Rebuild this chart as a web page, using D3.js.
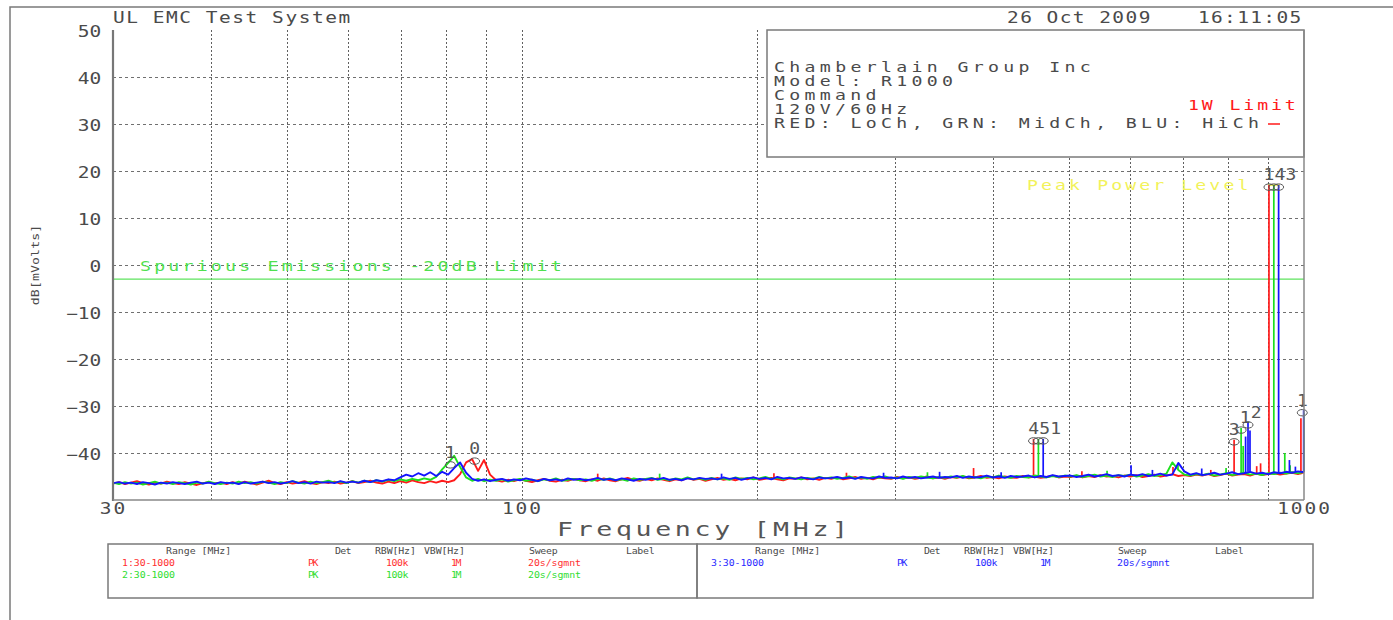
<!DOCTYPE html>
<html>
<head>
<meta charset="utf-8">
<script src="https://cdn.jsdelivr.net/npm/d3@7"></script>
<style>
  html, body { margin: 0; padding: 0; background: #fff; }
  svg { display: block; }
  text { font-family: "DejaVu Sans Mono", "Liberation Mono", monospace; }
</style>
</head>
<body>
<svg id="chart" width="1393" height="620"></svg>
<script>
// ---- sweep data (dB[mVolts]) for the three channels, 200 sweep points 30-1000 MHz ----
const sweepCount = 200;

const redTrace = [
  -46.5,-46.2,-46.6,-46.3,-46.0,-46.4,-46.7,-46.3,-46.5,-46.1,-46.4,-46.6,-46.2,-46.5,-46.8,-46.4,-46.2,-46.5,-46.3,-46.6,
  -46.2,-46.5,-46.1,-46.4,-46.7,-46.3,-45.9,-46.4,-46.6,-46.2,-46.5,-46.3,-46.0,-46.4,-46.6,-46.2,-46.4,-46.1,-46.5,-46.3,
  -46.0,-46.4,-46.2,-45.9,-46.3,-46.5,-46.1,-46.4,-46.0,-46.3,-45.8,-46.2,-46.4,-46.0,-46.3,-45.9,-46.2,-45.8,-44.5,-42.0,
  -41.3,-43.8,-41.5,-44.6,-45.8,-46.1,-45.7,-46.0,-45.6,-45.9,-46.2,-45.8,-45.5,-45.9,-46.1,-45.7,-45.9,-45.5,-45.8,-46.0,
  -45.6,-45.9,-45.4,-45.8,-46.0,-45.6,-45.3,-45.7,-45.9,-45.5,-45.8,-45.4,-45.7,-46.0,-45.6,-45.8,-45.3,-45.7,-45.5,-45.9,
  -45.6,-45.3,-45.7,-45.5,-45.8,-45.4,-45.6,-45.2,-45.7,-45.5,-45.3,-45.6,-45.8,-45.4,-45.5,-45.2,-45.6,-45.4,-45.7,-45.3,
  -45.5,-45.2,-45.6,-45.4,-45.1,-45.5,-45.3,-45.6,-45.2,-45.4,-45.5,-45.1,-45.4,-45.2,-45.5,-45.3,-45.0,-45.4,-45.2,-45.5,
  -45.1,-45.3,-45.0,-45.4,-45.2,-44.9,-45.3,-45.1,-45.4,-45.0,-45.2,-45.3,-44.9,-45.2,-45.0,-45.3,-45.1,-44.8,-45.2,-45.0,
  -45.1,-44.8,-45.2,-44.9,-45.1,-44.7,-45.0,-44.9,-45.2,-44.8,-45.0,-44.7,-45.1,-44.9,-44.6,-45.0,-44.8,-44.5,-44.9,-44.7,
  -44.9,-44.6,-44.8,-44.5,-44.9,-44.7,-44.4,-44.8,-44.6,-44.5,-44.8,-44.4,-44.7,-44.5,-44.3,-44.6,-44.4,-44.2,-44.5,-44.1
];

const greenTrace = [
  -46.3,-46.6,-46.2,-46.5,-46.3,-46.7,-46.4,-46.1,-46.5,-46.3,-46.6,-46.2,-46.4,-46.7,-46.3,-46.5,-46.1,-46.4,-46.6,-46.3,
  -46.5,-46.1,-46.4,-46.2,-46.5,-46.1,-46.3,-46.6,-46.2,-46.4,-46.0,-46.3,-46.5,-46.1,-46.4,-46.2,-45.9,-46.3,-46.1,-46.4,
  -46.0,-46.3,-45.9,-46.2,-45.8,-46.1,-45.7,-46.0,-45.6,-45.9,-45.5,-45.8,-45.4,-45.7,-45.1,-43.5,-42.1,-40.6,-43.0,-45.2,
  -45.9,-45.5,-46.0,-45.7,-45.9,-45.6,-46.1,-45.8,-45.5,-45.9,-45.7,-46.0,-45.6,-45.8,-45.4,-45.9,-45.7,-45.5,-45.8,-45.6,
  -45.9,-45.5,-45.7,-45.4,-45.8,-45.6,-45.9,-45.4,-45.7,-45.5,-45.3,-45.7,-45.5,-45.8,-45.4,-45.6,-45.2,-45.6,-45.4,-45.7,
  -45.3,-45.6,-45.4,-45.7,-45.2,-45.5,-45.3,-45.6,-45.4,-45.1,-45.5,-45.3,-45.6,-45.2,-45.4,-45.6,-45.3,-45.5,-45.1,-45.4,
  -45.2,-45.5,-45.3,-45.0,-45.4,-45.2,-45.5,-45.1,-45.3,-45.0,-45.4,-45.2,-45.5,-45.1,-45.3,-45.0,-45.2,-45.4,-45.1,-45.3,
  -45.0,-45.2,-44.9,-45.3,-45.1,-45.4,-45.0,-45.2,-44.8,-45.1,-45.3,-44.9,-45.1,-45.2,-44.8,-45.0,-45.2,-44.9,-45.1,-44.8,
  -45.0,-44.7,-45.1,-44.9,-44.6,-45.0,-44.8,-45.1,-44.7,-44.9,-44.6,-45.0,-44.8,-44.5,-44.9,-44.7,-44.4,-42.0,-43.6,-44.6,
  -44.8,-44.5,-44.7,-44.4,-44.8,-44.6,-44.3,-44.7,-44.5,-44.2,-44.6,-44.4,-44.7,-44.3,-44.5,-44.2,-44.4,-44.1,-44.3,-44.0
];

const blueTrace = [
  -46.4,-46.2,-46.5,-46.3,-46.6,-46.2,-46.4,-46.7,-46.3,-46.5,-46.2,-46.4,-46.6,-46.3,-46.1,-46.5,-46.3,-46.6,-46.2,-46.4,
  -46.3,-46.6,-46.2,-46.5,-46.3,-46.1,-46.4,-46.2,-46.5,-46.3,-46.0,-46.4,-46.2,-46.5,-46.1,-46.3,-46.2,-46.4,-46.0,-46.3,
  -46.1,-46.3,-45.9,-46.2,-45.8,-46.0,-45.6,-45.8,-45.2,-44.6,-45.0,-44.3,-44.8,-44.1,-44.9,-44.0,-44.6,-43.2,-42.0,-44.2,
  -45.5,-45.9,-45.6,-46.0,-45.7,-45.5,-45.9,-45.6,-45.8,-45.4,-45.7,-46.0,-45.5,-45.8,-45.6,-45.9,-45.4,-45.7,-45.5,-45.8,
  -45.6,-45.3,-45.7,-45.5,-45.8,-45.4,-45.6,-45.9,-45.5,-45.7,-45.4,-45.6,-45.3,-45.7,-45.5,-45.8,-45.4,-45.6,-45.3,-45.5,
  -45.4,-45.6,-45.2,-45.5,-45.3,-45.7,-45.4,-45.2,-45.5,-45.3,-45.6,-45.1,-45.4,-45.3,-45.5,-45.2,-45.4,-45.6,-45.2,-45.4,
  -45.3,-45.1,-45.4,-45.2,-45.5,-45.1,-45.3,-45.4,-45.0,-45.3,-45.2,-45.4,-45.0,-45.3,-45.1,-45.4,-45.2,-45.0,-45.3,-45.1,
  -45.2,-44.9,-45.3,-45.0,-45.2,-45.1,-44.8,-45.2,-45.0,-45.3,-44.9,-45.1,-45.0,-44.8,-45.2,-44.9,-45.1,-44.7,-45.0,-44.9,
  -44.8,-45.1,-44.9,-44.6,-45.0,-44.8,-44.5,-44.9,-44.7,-45.0,-44.6,-44.8,-44.5,-44.9,-44.7,-44.4,-44.8,-44.6,-42.1,-43.9,
  -44.6,-44.3,-44.7,-44.5,-44.2,-44.6,-44.4,-44.1,-44.5,-44.3,-44.0,-44.4,-44.2,-44.5,-44.1,-44.3,-44.0,-44.2,-43.9,-44.1
];

// narrow emissions: [MHz, dB]
const redSpikes = [
  [125, -44.4], [210, -44.3], [260, -44.2], [378, -43.2], [451, -37.0], [520, -43.9], [680, -43.0],
  [760, -43.6], [814, -37.2], [870, -42.8], [880, -42.2], [902, 17.0], [991, -32.6]
];
const greenSpikes = [
  [150, -44.4], [330, -44.1], [457.5, -37.0], [560, -43.8], [690, -42.5], [795, -43.2],
  [831, -34.7], [836, -38.5], [915, 17.0], [945, -40.0], [960, -42.6], [1000, -31.5]
];
const blueSpikes = [
  [180, -44.4], [290, -44.2], [342, -44.0], [410, -44.1], [464, -37.0], [601, -42.6], [640, -43.6],
  [740, -43.3], [842, -36.5], [848, -33.6], [853, -35.2], [928, 17.0], [958, -41.5], [975, -42.9], [999, -30.8]
];

// analyzer markers: [MHz, dB, label]
const markers = [
  [81, -42.1, "1"], [87, -41.3, "0"],
  [451, -37.0, "4"], [457.5, -37.0, "5"], [464, -37.0, "1"],
  [814, -37.2, "3"], [831, -34.7, "1"], [848, -33.6, "2"],
  [902, 17.0, "1"], [915, 17.0, "4"], [928, 17.0, "3"],
  [995, -31.0, "1"]
];

const yTicks = [50, 40, 30, 20, 10, 0, -10, -20, -30, -40];
const hGrid = [40, 30, 20, 10, 0, -10, -20, -30, -40];
const xTicks = [30, 100, 1000];
const vGrid = [40, 50, 60, 70, 80, 90, 100, 200, 300, 400, 500, 600, 700, 800, 900];
const spuriousLimit = -3;
const peakPowerLevel = 17;

const infoLines = ["Chamberlain Group Inc", "Model: R1000", "Command", "120V/60Hz", "RED: LoCh, GRN: MidCh, BLU: HiCh"];
const tableHeaders = ["Range [MHz]", "Det", "RBW[Hz]", "VBW[Hz]", "Sweep", "Label"];
const tableRowsLeft = [
  ["1:30-1000", "PK", "100k", "1M", "20s/sgmnt"],
  ["2:30-1000", "PK", "100k", "1M", "20s/sgmnt"]
];
const tableRowsRight = [
  ["3:30-1000", "PK", "100k", "1M", "20s/sgmnt"]
];

// ---- layout ----
const svg = d3.select("#chart");
const plot = { left: 113, right: 1304, top: 30, bottom: 500 };
const x = d3.scaleLog().domain([30, 1000]).range([plot.left, plot.right]);
const y = d3.scaleLinear().domain([-50, 50]).range([plot.bottom, plot.top]);
const sweepFreq = d3.range(sweepCount).map(i => 30 * Math.pow(1000 / 30, i / (sweepCount - 1)));

const ink = "#4a4a4a";
const colors = { red: "#ff1a1a", green: "#1ee01e", blue: "#1414ff" };

// wide, evenly pitched text in the style of a pen-plotter font
function ptext(parent, str, px, py, size, pitch, color, opts) {
  const o = Object.assign({ sx: 1.3, anchor: "start", rotate: 0 }, opts || {});
  const g = parent.append("g")
    .attr("transform", `translate(${px},${py}) rotate(${o.rotate}) scale(${o.sx},1)`);
  const t = g.append("text")
    .attr("x", 0).attr("y", 0)
    .attr("font-size", size)
    .attr("fill", color || ink)
    .attr("text-anchor", o.anchor)
    .text(str);
  if (pitch && str.length > 1) {
    t.attr("textLength", (str.length * pitch - pitch * 0.3) / o.sx)
     .attr("lengthAdjust", "spacing");
  }
  return t;
}

// outer sheet frame
svg.append("path").attr("d", "M10,620 V7 H1393").attr("fill", "none")
  .attr("stroke", "#7a7a7a").attr("stroke-width", 1.5);

// header
ptext(svg, "UL EMC Test System", 113, 23, 15, 13.4);
ptext(svg, "26 Oct 2009", 1007, 23, 15, 13.4);
ptext(svg, "16:11:05", 1198, 23, 15, 13.4);

// grid
const grid = svg.append("g");
grid.selectAll("line.h").data(hGrid).join("line")
  .attr("x1", plot.left).attr("x2", plot.right)
  .attr("y1", d => y(d) + 0.5).attr("y2", d => y(d) + 0.5)
  .attr("stroke", "#707070").attr("stroke-width", 1).attr("stroke-dasharray", "3,3");
grid.selectAll("line.v").data(vGrid).join("line")
  .attr("x1", d => Math.round(x(d)) + 0.5).attr("x2", d => Math.round(x(d)) + 0.5)
  .attr("y1", plot.top).attr("y2", plot.bottom)
  .attr("stroke", "#606060").attr("stroke-width", 1).attr("stroke-dasharray", "2,2");

// info box over the grid
const box = svg.append("g");
box.append("rect").attr("x", 767).attr("y", plot.top).attr("width", plot.right - 767).attr("height", 127)
  .attr("fill", "#fff").attr("stroke", "#7a7a7a").attr("stroke-width", 1.5);
infoLines.forEach((s, i) => ptext(box, s, 774, 72 + i * 14, 14, 15.3));
ptext(box, "1W Limit", 1188, 110, 14, 14.0, colors.red);
box.append("line").attr("x1", 1268).attr("x2", 1280).attr("y1", 124).attr("y2", 124)
  .attr("stroke", colors.red).attr("stroke-width", 1.5);

// limit lines and their labels
svg.append("line").attr("x1", plot.left).attr("x2", plot.right)
  .attr("y1", y(spuriousLimit)).attr("y2", y(spuriousLimit))
  .attr("stroke", "#5ee35e").attr("stroke-width", 1.2);
ptext(svg, "Spurious Emissions -20dB Limit", 140, 271, 14, 14.2, "#4fe04f");
ptext(svg, "Peak Power Level", 1027, 190, 14, 14.1, "#f2f25a");
svg.append("line").attr("x1", x(900)).attr("x2", x(931))
  .attr("y1", y(peakPowerLevel)).attr("y2", y(peakPowerLevel))
  .attr("stroke", "#f2f25a").attr("stroke-width", 2);

// traces
const traces = [
  { values: redTrace, spikes: redSpikes, color: colors.red },
  { values: greenTrace, spikes: greenSpikes, color: colors.green },
  { values: blueTrace, spikes: blueSpikes, color: colors.blue }
];
const line = d3.line().x(d => x(d[0])).y(d => y(d[1]));
const nearestIndex = f => Math.round(Math.log(f / 30) / Math.log(1000 / 30) * (sweepCount - 1));
const traceLayer = svg.append("g");
traces.forEach(t => {
  const pts = t.values.map((v, i) => [sweepFreq[i], v]);
  traceLayer.append("path").attr("d", line(pts)).attr("fill", "none")
    .attr("stroke", t.color).attr("stroke-width", 1.9).attr("stroke-linejoin", "round");
  traceLayer.selectAll(null).data(t.spikes).join("line")
    .attr("x1", d => x(d[0])).attr("x2", d => x(d[0]))
    .attr("y1", d => y(t.values[Math.min(sweepCount - 1, nearestIndex(d[0]))]))
    .attr("y2", d => y(d[1]))
    .attr("stroke", t.color).attr("stroke-width", 1.7);
});

// markers: ellipse on the peak, number above; numbers of close markers are packed side by side
const mk = svg.append("g");
mk.selectAll("ellipse").data(markers).join("ellipse")
  .attr("cx", d => x(d[0])).attr("cy", d => y(d[1]) + 2)
  .attr("rx", 5).attr("ry", 3.2)
  .attr("fill", "none").attr("stroke", "#555").attr("stroke-width", 1);
const labelPitch = 11;
let lastLabelX = -Infinity;
const labelX = markers.map(d => {
  const lx = Math.max(x(d[0]), lastLabelX + labelPitch);
  lastLabelX = lx;
  return lx;
});
mk.selectAll("g").data(markers).join("g")
  .attr("transform", (d, i) => `translate(${labelX[i]},${y(d[1]) - 5}) scale(1.2,1)`)
  .append("text")
  .attr("text-anchor", "middle").attr("font-size", 15).attr("fill", "#555")
  .text(d => d[2]);

// axes
const yAxis = svg.append("g").attr("transform", `translate(${plot.left},0)`)
  .call(d3.axisLeft(y).tickValues(yTicks).tickSize(0).tickPadding(9).tickFormat(d3.format("d")));
yAxis.select(".domain").remove();
yAxis.selectAll("text").attr("font-size", 15).attr("fill", ink)
  .attr("font-family", "DejaVu Sans Mono, monospace").attr("dy", "0.45em")
  .attr("transform", "scale(1.3,1)");

const xAxis = svg.append("g").attr("transform", `translate(0,${plot.bottom})`)
  .call(d3.axisBottom(x).tickValues(xTicks).tickSize(0).tickPadding(3).tickFormat(d3.format("d")));
xAxis.select(".domain").remove();
xAxis.selectAll("text").attr("font-size", 15).attr("fill", ink)
  .attr("font-family", "DejaVu Sans Mono, monospace").style("letter-spacing", "1.5px")
  .attr("transform", "scale(1.3,1)");

// plot frame
svg.append("line").attr("x1", plot.left).attr("x2", plot.left).attr("y1", plot.top).attr("y2", plot.bottom + 1)
  .attr("stroke", "#777").attr("stroke-width", 2.2);
svg.append("line").attr("x1", plot.left).attr("x2", plot.right).attr("y1", plot.bottom).attr("y2", plot.bottom)
  .attr("stroke", "#888").attr("stroke-width", 1.5);
svg.append("line").attr("x1", plot.right).attr("x2", plot.right).attr("y1", plot.top).attr("y2", plot.bottom)
  .attr("stroke", "#888").attr("stroke-width", 1.5);

// axis titles
ptext(svg, "Frequency [MHz]", 557, 536, 19, 19.8, "#555", { sx: 1.4 });
ptext(svg, "dB[mVolts]", 39, 265, 11, 8.3, ink, { anchor: "middle", rotate: -90, sx: 1.2 });

// settings table
const table = svg.append("g");
const headerOffsets = [58, 227, 267, 316, 421, 518];
const rowOffsets = [14, 200, 278, 343, 420];
function drawTable(left, width, rows, rowColors) {
  table.append("rect").attr("x", left).attr("y", 544).attr("width", width).attr("height", 54)
    .attr("fill", "none").attr("stroke", "#7a7a7a").attr("stroke-width", 1.5);
  tableHeaders.forEach((h, i) => ptext(table, h, left + headerOffsets[i], 554, 9, 6.1, ink, { sx: 1.1 }));
  rows.forEach((r, ri) => r.forEach((c, ci) =>
    ptext(table, c, left + rowOffsets[ci], 566 + ri * 12, 9, 6.1, rowColors[ri], { sx: 1.1 })));
}
drawTable(108, 589, tableRowsLeft, ["#ff3030", "#30dd30"]);
drawTable(697, 616, tableRowsRight, ["#2a2aff"]);
</script>
</body>
</html>
